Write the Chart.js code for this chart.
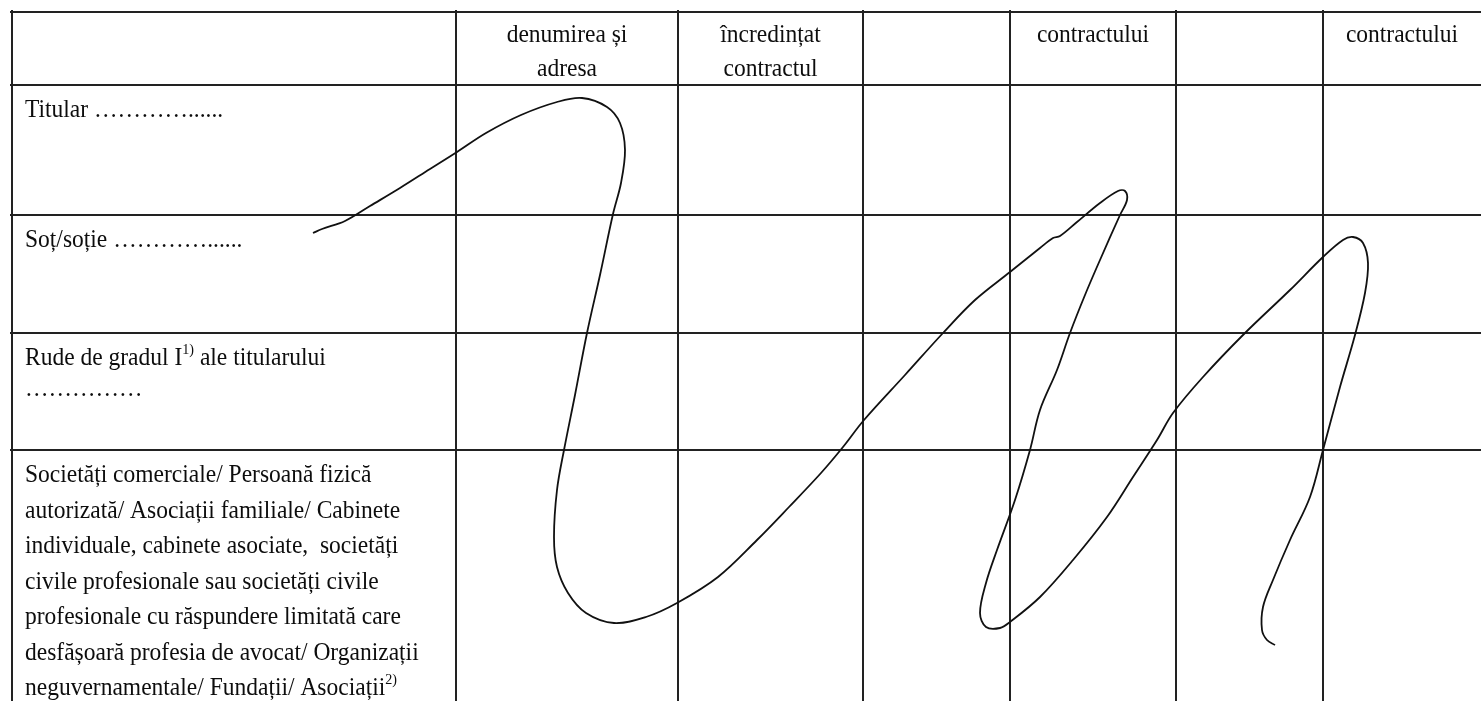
<!DOCTYPE html>
<html>
<head>
<meta charset="utf-8">
<script src="https://cdn.jsdelivr.net/npm/chart.js@4.4.0/dist/chart.umd.min.js"></script>
<style>
  html, body { margin: 0; padding: 0; background: #fff; }
  canvas { display: block; }
</style>
</head>
<body>
<canvas id="formChart" width="1481" height="701"></canvas>
<script>
// table grid (column and row borders, in page units)
const columnEdges = [12, 456, 678, 863, 1010, 1176, 1323];
const rowEdges = [12, 85, 215, 333, 450];

// header cells: column index -> lines
const headerColumns = [1, 2, 4, 6];
const headerLines = [
  ["denumirea și", "adresa"],
  ["încredințat", "contractul"],
  ["contractului"],
  ["contractului"]
];

// row labels, ^...^ = superscript
const rowLines = [
  ["Titular …………......"],
  ["Soț/soție …………......"],
  ["Rude de gradul I^1)^ ale titularului", "……………"],
  [
    "Societăți comerciale/ Persoană fizică",
    "autorizată/ Asociații familiale/ Cabinete",
    "individuale, cabinete asociate,  societăți",
    "civile profesionale sau societăți civile",
    "profesionale cu răspundere limitată care",
    "desfășoară profesia de avocat/ Organizații",
    "neguvernamentale/ Fundații/ Asociații^2)^"
  ]
];

// signature stroke
const signatureX = [313, 322, 345, 370, 400, 430, 457, 486, 521, 557, 582, 607, 620, 625, 621, 613, 600, 587, 575, 564,
  557, 554, 557, 568, 586, 614, 646, 677, 718, 757, 789, 821, 843, 864, 905, 943, 975, 1010, 1040, 1053,
  1060, 1077, 1100, 1118, 1125, 1127, 1120, 1100, 1085, 1070, 1057, 1040, 1030, 1015, 997, 986, 980, 986, 1000, 1010,
  1040, 1073, 1107, 1133, 1157, 1173, 1203, 1243, 1290, 1323, 1343, 1353, 1363, 1368, 1365, 1355, 1340, 1323, 1310, 1290,
  1273, 1263, 1262, 1267, 1275];
const signatureY = [233, 229, 221, 206, 188, 169, 152, 133, 115, 102, 98, 107, 123, 150, 183, 214, 275, 333, 395, 450,
  490, 537, 567, 593, 613, 623, 617, 603, 577, 540, 507, 473, 447, 420, 375, 333, 300, 272, 248, 238,
  236, 222, 203, 191, 191, 200, 215, 260, 295, 333, 370, 410, 450, 500, 550, 583, 613, 627, 628, 622,
  597, 560, 517, 477, 440, 413, 377, 335, 290, 257, 240, 237, 243, 263, 293, 335, 387, 450, 497, 540,
  580, 607, 630, 640, 645];

const FONT = "Liberation Serif, Times New Roman, serif";
const fontSize = 25;
const squeeze = 0.94;

function drawRich(ctx, str, x, y, align) {
  const parts = str.split("^");
  let total = 0;
  parts.forEach((p, i) => {
    ctx.font = (i % 2 ? 15 : fontSize) + "px " + FONT;
    total += ctx.measureText(p).width;
  });
  let cx = align === "center" ? x - total * squeeze / 2 : x;
  ctx.save();
  ctx.translate(cx, y);
  ctx.scale(squeeze, 1);
  let off = 0;
  parts.forEach((p, i) => {
    ctx.font = (i % 2 ? 15 : fontSize) + "px " + FONT;
    ctx.fillText(p, off, i % 2 ? -11 : 0);
    off += ctx.measureText(p).width;
  });
  ctx.restore();
}

const formText = {
  id: "formText",
  beforeDatasetsDraw(chart) {
    const ctx = chart.ctx;
    const xs = chart.scales.x, ys = chart.scales.y;
    ctx.save();
    ctx.fillStyle = "#0d0d0d";
    ctx.textBaseline = "alphabetic";
    ctx.textAlign = "left";
    headerColumns.forEach((c, i) => {
      const left = columnEdges[c];
      const right = c + 1 < columnEdges.length ? columnEdges[c + 1] : xs.max;
      const mid = xs.getPixelForValue((left + right) / 2);
      headerLines[i].forEach((line, j) => {
        drawRich(ctx, line, mid, ys.getPixelForValue(rowEdges[0] + 30 + j * 34), "center");
      });
    });
    rowLines.forEach((lines, r) => {
      const top = rowEdges[r + 1];
      const step = r === 3 ? 35.5 : 31;
      lines.forEach((line, j) => {
        drawRich(ctx, line, xs.getPixelForValue(columnEdges[0] + 13),
          ys.getPixelForValue(top + 32 + j * step), "left");
      });
    });
    ctx.restore();
  }
};

new Chart(document.getElementById("formChart"), {
  type: "scatter",
  data: {
    datasets: [{
      label: "semnătură",
      data: signatureX.map((x, i) => ({ x: x, y: signatureY[i] })),
      showLine: true,
      tension: 0.35,
      borderColor: "#111",
      borderWidth: 1.8,
      pointRadius: 0,
      fill: false
    }]
  },
  options: {
    responsive: false,
    animation: false,
    devicePixelRatio: 1,
    layout: { padding: { left: 10, top: 10, right: 0, bottom: 0 } },
    plugins: { legend: { display: false }, tooltip: { enabled: false } },
    scales: {
      x: {
        type: "linear", min: 10, max: 1481,
        afterBuildTicks: (s) => { s.ticks = columnEdges.map(v => ({ value: v })); },
        ticks: { display: false },
        grid: { color: "#222", lineWidth: 2, drawTicks: false },
        border: { display: false }
      },
      y: {
        type: "linear", min: 10, max: 701, reverse: true,
        afterBuildTicks: (s) => { s.ticks = rowEdges.map(v => ({ value: v })); },
        ticks: { display: false },
        grid: { color: "#222", lineWidth: 2, drawTicks: false },
        border: { display: false }
      }
    }
  },
  plugins: [formText]
});
</script>
</body>
</html>
